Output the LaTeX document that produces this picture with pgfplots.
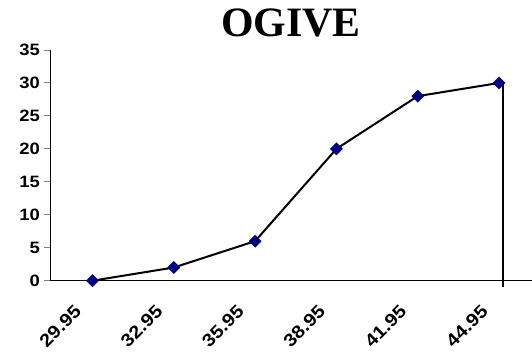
\documentclass[border=0pt]{standalone}
\usepackage{fontspec}
\setmainfont{Liberation Sans}
\newfontfamily\titlefont{Liberation Serif}
\newfontfamily\tickfont[FakeStretch=1.12]{Liberation Sans}
\usepackage{pgfplots}
\pgfplotsset{compat=1.18}
\definecolor{navyblue}{RGB}{0,0,128}
\begin{document}
\begin{tikzpicture}[x=1bp,y=1bp]
\begin{axis}[
  scale only axis,
  width=482bp, height=230.7bp,
  xmin=-0.523, xmax=5.405,
  ymin=0, ymax=35,
  axis x line=bottom, axis y line=left,
  axis line style={-, line width=0.9bp},
  xtick={0,1,2,3,4,5},
  xticklabels={29.95,32.95,35.95,38.95,41.95,44.95},
  ytick={0,5,...,35},
  major x tick style={draw=none},
  major y tick style={line width=0.9bp},
  tick align=outside,
  major tick length=6bp,
  /pgf/number format/assume math mode=true,
  tick label style={font=\tickfont\fontsize{16.5}{18}\selectfont\bfseries},
  xticklabel style={font=\tickfont\fontsize{18}{20}\selectfont\bfseries, xshift=-19bp, yshift=-17bp, rotate=45, anchor=north east, inner sep=0pt},
  yticklabel style={inner sep=0pt, xshift=-4bp},
  clip=false,
]
\addplot[black, line width=2bp, mark=square*, mark size=4.4bp,
  mark options={rotate=45, fill=navyblue, draw=navyblue, line width=0.2bp}]
  coordinates {(0,0) (1,2) (2,6) (3,20) (4,28) (5,30)};
\addplot[black, line width=2bp, no marks] coordinates {(5.05,30) (5.05,-0.9)};
\node[font=\titlefont\fontsize{42}{46}\selectfont\bfseries, anchor=base] at (rel axis cs:0.5,1.06) {OGIVE};
\coordinate (bl) at (rel axis cs:-0.1037,-0.3121);
\coordinate (tr) at (rel axis cs:1,1.2167);
\end{axis}
\pgfresetboundingbox
\path (bl) rectangle (tr);
\end{tikzpicture}
\end{document}
